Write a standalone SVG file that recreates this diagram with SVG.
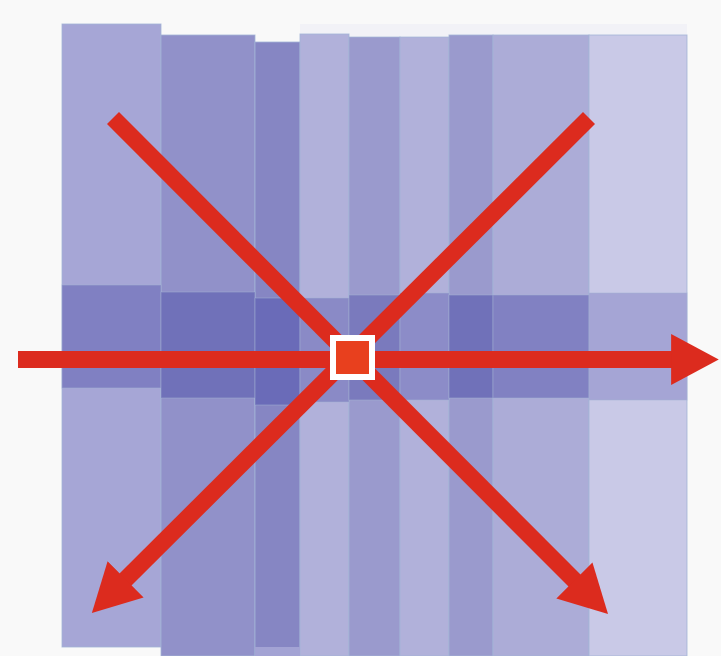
<svg xmlns="http://www.w3.org/2000/svg" width="721" height="656" viewBox="0 0 721 656">
  <style>
    .col { stroke: #a3b4d6; stroke-width: 1; stroke-opacity: 0.8; }
    .band { stroke: #a3b4d6; stroke-width: 1; stroke-opacity: 0.5; }
    .arrow { stroke: #dc2b1e; fill: none; stroke-linecap: butt; }
  </style>
  <defs>
    <marker id="head" viewBox="0 0 2.8 3" markerWidth="2.8" markerHeight="3" refX="0.05" refY="1.5" orient="auto" markerUnits="strokeWidth">
      <path d="M0,0 L2.8,1.5 L0,3 z" fill="#dc2b1e"/>
    </marker>
  </defs>
  <rect x="0" y="0" width="721" height="656" fill="#f9f9f9"/>

  <g id="panels">
    <rect x="300" y="24" width="387" height="12" fill="#f2f2f7"/>
    <rect class="col" x="62" y="24" width="99" height="623" fill="#a6a6d6"/>
    <rect class="col" x="161" y="35" width="94" height="621" fill="#9191c9"/>
    <rect class="col" x="255" y="42" width="45" height="614" fill="#8686c3"/>
    <rect class="col" x="300" y="34" width="49" height="622" fill="#b1b1da"/>
    <rect class="col" x="349" y="37" width="51" height="619" fill="#9a9acd"/>
    <rect class="col" x="400" y="37" width="49" height="619" fill="#b1b1da"/>
    <rect class="col" x="449" y="35" width="44" height="621" fill="#9a9acd"/>
    <rect class="col" x="493" y="35" width="96" height="621" fill="#acacd7"/>
    <rect class="col" x="589" y="35" width="98" height="621" fill="#c9c9e7"/>
    <rect x="255" y="647" width="45" height="9" fill="#a3a3d4"/>
  </g>

  <g id="band">
    <rect class="band" x="62" y="285" width="99" height="103" fill="#8080c2"/>
    <rect class="band" x="161" y="292" width="94" height="106" fill="#7071b9"/>
    <rect class="band" x="255" y="298" width="45" height="107" fill="#6a6bb8"/>
    <rect class="band" x="300" y="298" width="49" height="104" fill="#8a8ac6"/>
    <rect class="band" x="349" y="295" width="51" height="105" fill="#7a7abd"/>
    <rect class="band" x="400" y="293" width="49" height="107" fill="#8c8cc8"/>
    <rect class="band" x="449" y="295" width="44" height="103" fill="#7071b9"/>
    <rect class="band" x="493" y="295" width="96" height="103" fill="#8181c2"/>
    <rect class="band" x="589" y="293" width="98" height="107" fill="#a5a5d5"/>
  </g>

  <g id="connectors">
    <line class="arrow" x1="18" y1="359.5" x2="672" y2="359.5" stroke-width="17" marker-end="url(#head)"/>
    <line class="arrow" x1="113" y1="118" x2="575" y2="581" stroke-width="17" marker-end="url(#head)"/>
    <line class="arrow" x1="589" y1="118" x2="125" y2="580" stroke-width="17" marker-end="url(#head)"/>
  </g>

  <g id="center">
    <rect x="333" y="338" width="39" height="39" fill="#e8401e" stroke="#ffffff" stroke-width="6"/>
  </g>
</svg>
